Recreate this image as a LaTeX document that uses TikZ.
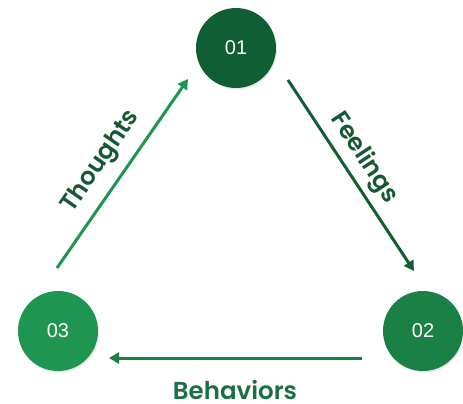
\documentclass[tikz,border=0pt]{standalone}
\usepackage{fontspec}
\setmainfont{Liberation Sans}
\newfontfamily\labelfont{Poppins SemiBold}
\usetikzlibrary{arrows.meta,shadows}
\definecolor{gdark}{RGB}{16,94,52}
\definecolor{gmid}{RGB}{26,128,70}
\definecolor{glight}{RGB}{30,150,82}
\definecolor{tdark}{RGB}{22,88,52}
\definecolor{tmid}{RGB}{26,112,66}
\tikzset{
  stepcircle/.style={circle, minimum size=80pt, inner sep=0pt, text=white,
    font=\fontsize{20}{22}\selectfont,
    drop shadow={shadow xshift=1pt, shadow yshift=-1.5pt, opacity=0.18}},
  flowarrow/.style={line width=3pt, -{Triangle[length=10pt,width=11pt]}},
  flowlabel/.style={font=\labelfont\fontsize{24.5}{26}\selectfont, inner sep=0pt}
}
\begin{document}
\begin{tikzpicture}[x=1pt,y=-1pt]
\useasboundingbox (0,0) rectangle (463,404);
\node[stepcircle, fill=gdark] (n1) at (236,48) {01};
\node[stepcircle, fill=gmid] (n2) at (423,331) {02};
\node[stepcircle, fill=glight] (n3) at (58,331) {03};
\coordinate (t1) at (57,268);
\coordinate (t2) at (188,79);
\coordinate (f1) at (288,80);
\coordinate (f2) at (414,271);
\coordinate (b1) at (362,358);
\coordinate (b2) at (109,358);
\draw[flowarrow, glight] (t1) -- (t2);
\draw[flowarrow, gdark] (f1) -- (f2);
\draw[flowarrow, gmid] (b1) -- (b2);
\node[flowlabel, text=tdark, rotate=55.3] (lt) at (101,162) {Thoughts};
\node[flowlabel, text=tdark, rotate=-56.7] (lf) at (364,158) {Feelings};
\node[flowlabel, text=tmid, anchor=base] (lb) at (235,399) {Behaviors};
\end{tikzpicture}
\end{document}
